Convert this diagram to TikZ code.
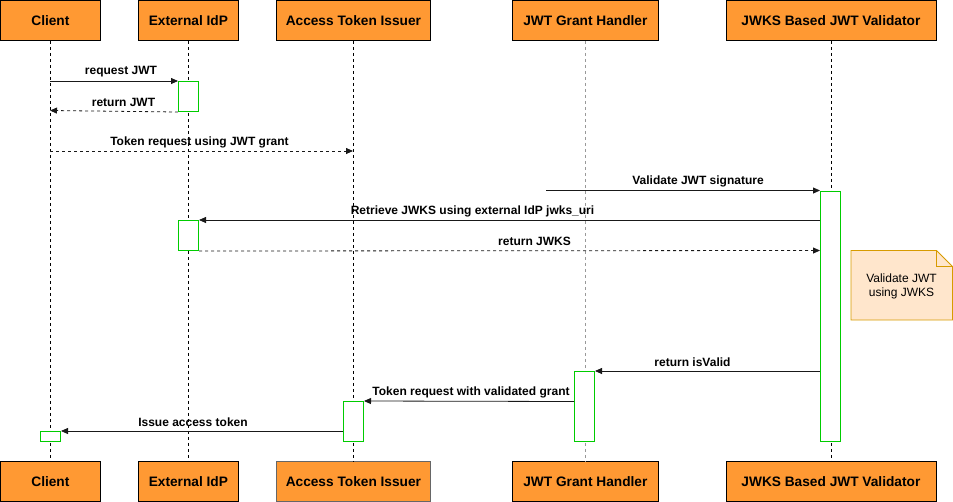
\documentclass[tikz,border=0pt]{standalone}
\usepackage{fontspec}
\setmainfont{Liberation Sans}
\usetikzlibrary{arrows.meta}
\definecolor{hdr}{HTML}{FF9933}
\definecolor{actg}{HTML}{00CC00}
\definecolor{notefill}{HTML}{FFE6CC}
\definecolor{notedraw}{HTML}{D79B00}
\tikzset{
  hdrbox/.style={draw=black, line width=0.8pt, fill=hdr, minimum height=40pt, inner sep=0pt, anchor=north west, font=\bfseries\fontsize{13.7}{16}\selectfont},
  lifeline/.style={draw=black, line width=0.7pt, dash pattern=on 3pt off 3pt},
  lifelinegray/.style={draw=gray!80, line width=1.4pt, dash pattern=on 3pt off 3pt},
  actbox/.style={draw=actg, line width=1pt, fill=white, minimum width=20pt, inner sep=0pt, anchor=north west},
  msg/.style={draw=black!90, line width=0.8pt, -{Triangle[length=7pt,width=6pt]}},
  ret/.style={msg, dash pattern=on 3pt off 3pt},
  lbl/.style={font=\bfseries\fontsize{12}{14}\selectfont, inner sep=0pt, yshift=9pt},
}
\begin{document}
\begin{tikzpicture}[x=1pt,y=-1pt]
\useasboundingbox (0,0) rectangle (953,501);
% headers
\node[hdrbox, minimum width=100pt] (client) at (0,0) {Client};
\node[hdrbox, minimum width=100pt] (idp) at (138,0) {External IdP};
\node[hdrbox, minimum width=154pt] (ati) at (276,0) {Access Token Issuer};
\node[hdrbox, minimum width=146pt] (jgh) at (512,0) {JWT Grant Handler};
\node[hdrbox, minimum width=210pt] (jv) at (725.5,0) {JWKS Based JWT Validator};
% footers
\node[hdrbox, minimum width=100pt] (clientB) at (0,461) {Client};
\node[hdrbox, minimum width=100pt] (idpB) at (138,461) {External IdP};
\node[hdrbox, minimum width=154pt, draw=black!60] (atiB) at (276,461) {Access Token Issuer};
\node[hdrbox, minimum width=146pt] (jghB) at (512,461) {JWT Grant Handler};
\node[hdrbox, minimum width=210pt] (jvB) at (725.5,461) {JWKS Based JWT Validator};
% lifelines
\draw[lifeline] (client.south) -- (clientB.north);
\draw[lifeline] (idp.south) -- (idpB.north);
\draw[lifeline] (ati.south) -- (atiB.north);
\draw[lifelinegray] (jgh.south) -- (jghB.north);
\draw[lifeline] (jv.south) -- (jvB.north);
% activation boxes
\node[actbox, minimum height=30pt] (a1) at (178,81) {};
\node[actbox, minimum height=30pt] (a2) at (178,220) {};
\node[actbox, minimum height=250pt] (av) at (820,190.5) {};
\node[actbox, minimum height=70pt] (ag) at (574,371) {};
\node[actbox, minimum height=40pt] (ai) at (343,401) {};
\node[actbox, minimum height=10pt] (ac) at (40,431) {};
% coordinates
\coordinate (c1) at (50,81);
\coordinate (c2) at (50,110.5);
\coordinate (c3a) at (50,151);
\coordinate (c3b) at (353,151);
\coordinate (c4) at (546,190.5);
\coordinate (c5) at (820,220);
\coordinate (c6) at (820,250.5);
\coordinate (c7) at (820,371);
\coordinate (c8) at (574,401.5);
\coordinate (c9) at (343,431);
% messages
\draw[msg] (c1) -- (a1.north west) node[lbl, midway, xshift=7pt] {request JWT};
\draw[ret] (a1.south west) -- (c2) node[lbl, midway, xshift=9.5pt] {return JWT};
\draw[ret] (c3a) -- (c3b) node[lbl, midway, xshift=-2pt] {Token request using JWT grant};
\draw[msg] (c4) -- (av.north west) node[lbl, midway, xshift=15pt] {Validate JWT signature};
\draw[msg] (c5) -- (a2.north east) node[lbl, midway, xshift=-37pt] {Retrieve JWKS using external IdP jwks\_uri};
\draw[ret] (a2.south east) -- (c6) node[lbl, midway, xshift=25pt] {return JWKS};
\draw[msg] (c7) -- (ag.north east) node[lbl, midway, xshift=-15pt] {return isValid};
\draw[msg] (c8) -- (ai.north east) node[lbl, midway, xshift=2pt] {Token request with validated grant};
\draw[msg] (c9) -- (ac.north east) node[lbl, midway, xshift=-9pt] {Issue access token};
% note
\draw[draw=notedraw, fill=notefill, line width=0.8pt] (851,250.5) -- (936.5,250.5) -- (952.5,266.5) -- (952.5,320) -- (851,320) -- cycle;
\draw[draw=notedraw, line width=0.8pt] (936.5,250.5) -- (936.5,266.5) -- (952.5,266.5);
\node[align=center, font=\fontsize{12}{14}\selectfont, inner sep=0pt] (note) at (901.5,286) {Validate JWT\\using JWKS};
\end{tikzpicture}
\end{document}
